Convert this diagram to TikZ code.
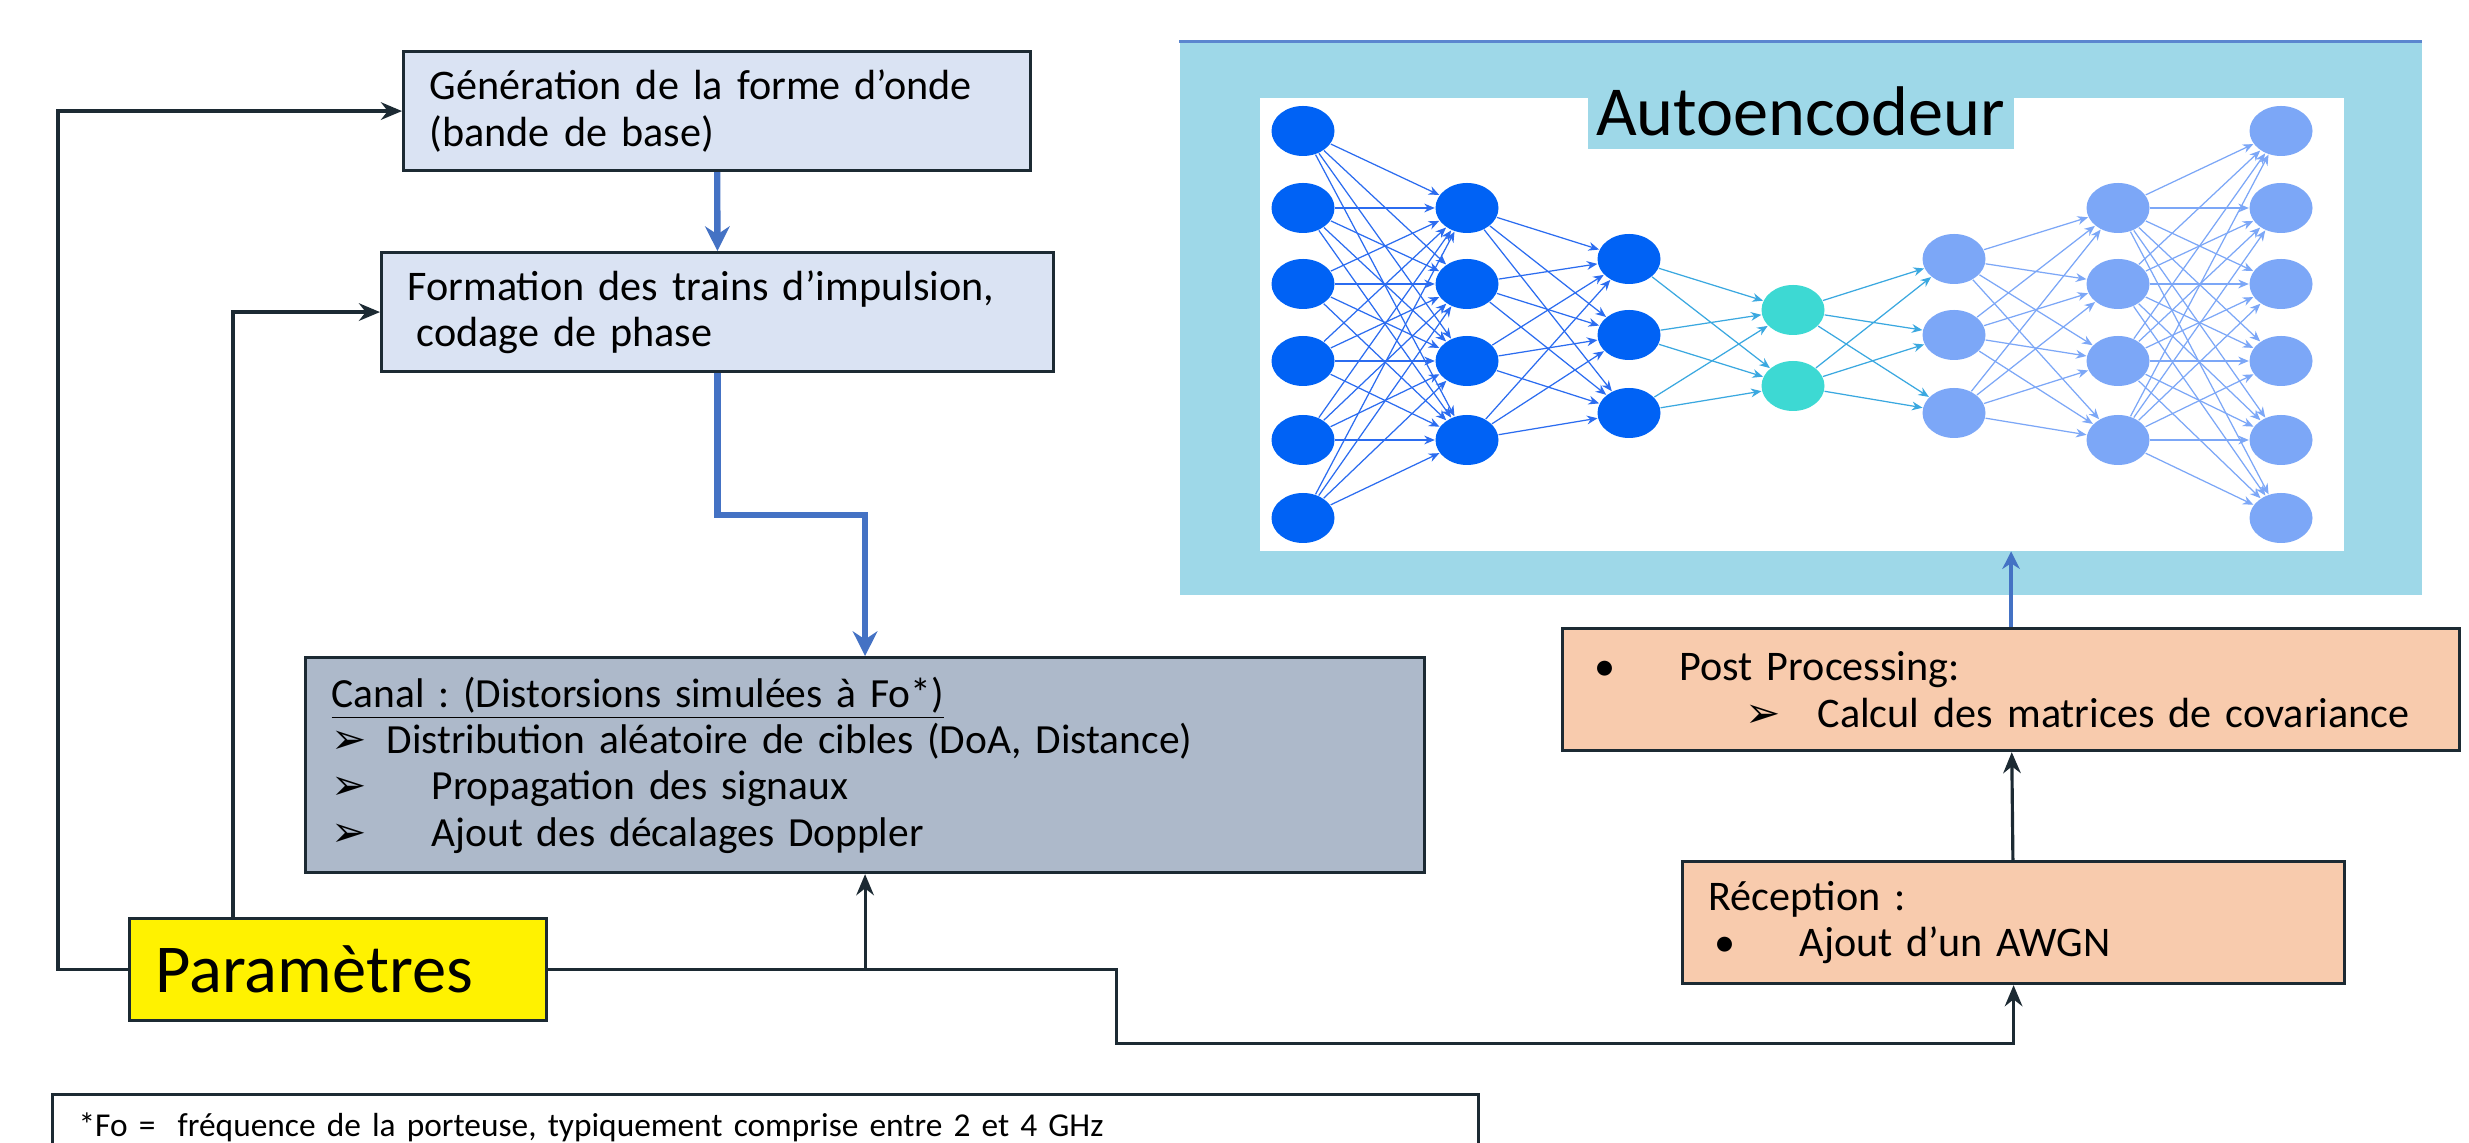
\documentclass[tikz,border=0pt]{standalone}
\usepackage{fontspec}
\setmainfont{Carlito}
\newfontfamily\dingfont{DejaVu Sans}
\usetikzlibrary{arrows.meta, positioning, shapes.geometric}
\frenchspacing

\definecolor{linec}{HTML}{1C2A33}
\definecolor{arrblue}{HTML}{4472C4}
\definecolor{paleblue}{HTML}{DAE3F3}
\definecolor{canalgray}{HTML}{ADB9CA}
\definecolor{peach}{HTML}{F8CBAD}
\definecolor{aeback}{HTML}{9ED8E8}
\definecolor{aeline}{HTML}{5B86CF}
\definecolor{ndark}{HTML}{0062F5}
\definecolor{nteal}{HTML}{3DD9D3}
\definecolor{nlight}{HTML}{7CA7F7}
\definecolor{edark}{HTML}{2B6CF0}
\definecolor{emid}{HTML}{3AA8E0}
\definecolor{elight}{HTML}{7CA7F7}

\newcommand{\fleche}{{\dingfont\fontsize{12}{12}\selectfont ➢}}

\begin{document}
\begin{tikzpicture}[x=0.1mm, y=-0.1mm,
	box/.style={draw=linec, line width=0.9pt, anchor=north west, inner xsep=2.6mm, inner ysep=0pt, align=left, font=\fontsize{12}{13.2}\selectfont},
	link/.style={draw=linec, line width=0.9pt, -{Stealth[length=6pt, width=5pt]}},
	bluelink/.style={draw=arrblue, line width=1.8pt, -{Stealth[length=7pt, width=7pt]}},
	neuron/.style={ellipse, minimum width=6.3mm, minimum height=5mm, inner sep=0pt},
	syn/.style={draw=#1, line width=0.35pt, -{Stealth[length=3pt, width=2.5pt]}}]
	\useasboundingbox (0,0) rectangle (2469,1143);

	\node[box, fill=paleblue, text width=57.5mm, minimum height=11.9mm] (gen) at (402,50) {Génération de la forme d’onde\\(bande de base)};
	\node[box, fill=paleblue, text width=62mm, minimum height=11.9mm] (form) at (380,251) {Formation des trains d’impulsion,\\\hspace*{0.9mm}codage de phase};
	\node[box, fill=canalgray, text width=106.7mm, minimum height=21.5mm, font=\fontsize{11.8}{13.2}\selectfont] (canal) at (304,656) {\underline{Canal : (Distorsions simulées à Fo*)}\\\makebox[5.5mm][l]{\fleche}Distribution aléatoire de cibles (DoA, Distance)\\\makebox[10mm][l]{\fleche}Propagation des signaux\\\makebox[10mm][l]{\fleche}Ajout des décalages Doppler};
	\node[box, fill=yellow, text width=36.5mm, minimum height=10.2mm, font=\fontsize{19.5}{21}\selectfont] (param) at (128,917) {Paramètres};
	\node[box, fill=peach, text width=84.5mm, minimum height=12.2mm] (post) at (1561,627) {\makebox[9.1mm][l]{\hspace{0.6mm}•}Post Processing:\\\hspace*{15.7mm}\makebox[7.2mm][l]{\fleche}Calcul des matrices de covariance};
	\node[box, fill=peach, text width=61mm, minimum height=12.2mm] (recep) at (1681,860) {Réception :\\\makebox[9.1mm][l]{\hspace{0.6mm}•}Ajout d’un AWGN};
	\node[box, fill=white, text width=137.4mm, minimum height=6.6mm, font=\fontsize{9.5}{11}\selectfont] (foot) at (51,1093) {*Fo =\ \ fréquence de la porteuse, typiquement comprise entre 2 et 4 GHz};

	\node[fill=aeback, anchor=north west, inner sep=0pt, minimum width=124.2mm, minimum height=55.25mm] (ae) at (1179,41.5) {};
	\draw[aeline, line width=1pt] (ae.north west) -- (ae.north east);
	\node[fill=white, anchor=north west, inner sep=0pt, minimum width=108.4mm, minimum height=45.3mm] (net) at (1259,97) {};
	\node[fill=aeback, anchor=north west, inner sep=0pt, minimum width=42.6mm, text height=3.8mm, text depth=1.3mm, font=\fontsize{20}{20}\selectfont] (title) at (1587,97) {Autoencodeur};

	\foreach \y [count=\i] in {131,208,284,361,440,518} \node[neuron, fill=ndark] (a\i) at (1303,\y) {};
	\foreach \y [count=\i] in {208,284,361,440} \node[neuron, fill=ndark] (b\i) at (1467,\y) {};
	\foreach \y [count=\i] in {259,335,413} \node[neuron, fill=ndark] (c\i) at (1629,\y) {};
	\foreach \y [count=\i] in {310,386} \node[neuron, fill=nteal] (d\i) at (1793,\y) {};
	\foreach \y [count=\i] in {259,335,413} \node[neuron, fill=nlight] (e\i) at (1954,\y) {};
	\foreach \y [count=\i] in {208,284,361,440} \node[neuron, fill=nlight] (f\i) at (2118,\y) {};
	\foreach \y [count=\i] in {131,208,284,361,440,518} \node[neuron, fill=nlight] (g\i) at (2281,\y) {};

	\foreach \i in {1,...,6} \foreach \j in {1,...,4} \draw[syn=edark] (a\i) -- (b\j);
	\foreach \i in {1,...,4} \foreach \j in {1,...,3} \draw[syn=edark] (b\i) -- (c\j);
	\foreach \i in {1,...,3} \foreach \j in {1,2} \draw[syn=emid] (c\i) -- (d\j);
	\foreach \i in {1,2} \foreach \j in {1,...,3} \draw[syn=emid] (d\i) -- (e\j);
	\foreach \i in {1,...,3} \foreach \j in {1,...,4} \draw[syn=elight] (e\i) -- (f\j);
	\foreach \i in {1,...,4} \foreach \j in {1,...,6} \draw[syn=elight] (f\i) -- (g\j);

	\draw[bluelink] (gen) -- (form);
	\draw[bluelink] (form.south) -- ++(0,142) -| (canal.north);
	\draw[link] (param.west) -- ++(-70,0) |- (gen.west);
	\draw[link] ([xshift=10.5mm]param.north west) |- (form.west);
	\draw[link] (param.east) -| (canal.south);
	\draw[link] (param.east) -- ++(568,0) -- ++(0,74) -| (recep.south);
	\draw[link] (recep) -- (post);
	\draw[bluelink, line width=1.2pt, -{Stealth[length=5pt, width=5pt]}] (post.north) -- (post.north |- net.south);
\end{tikzpicture}
\end{document}
